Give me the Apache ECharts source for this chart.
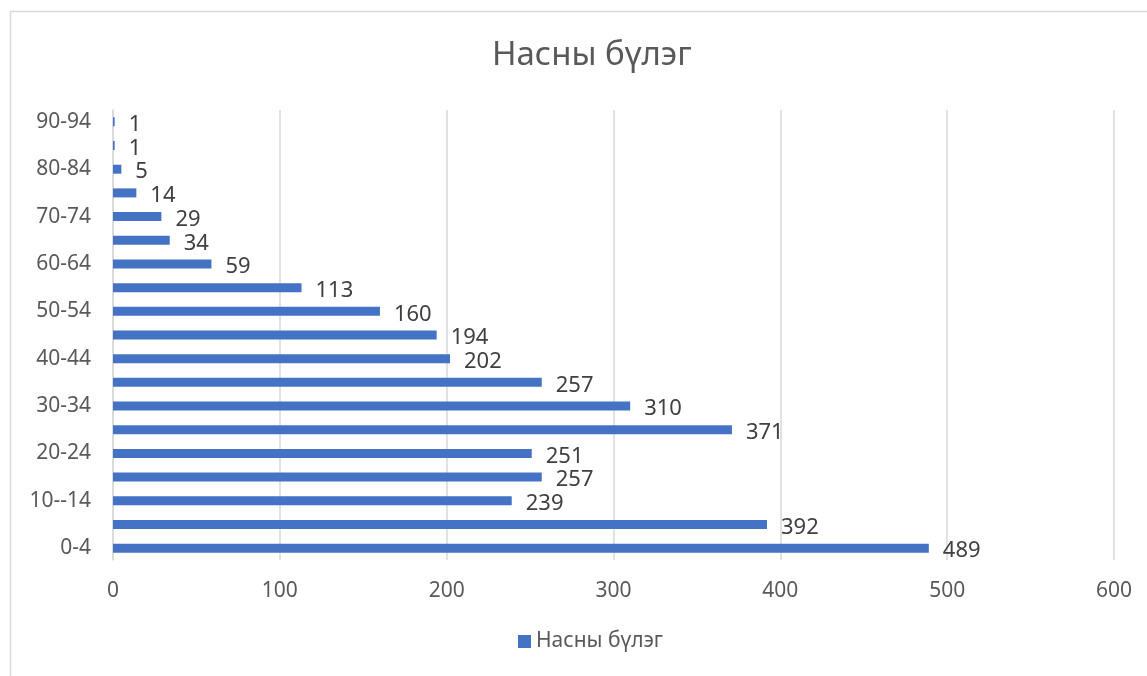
<!DOCTYPE html>
<html>
<head>
<meta charset="utf-8">
<style>
  html, body { margin: 0; padding: 0; background: #fff; }
  #chart { width: 1147px; height: 676px; }
</style>
<script src="https://cdn.jsdelivr.net/npm/echarts@6/dist/echarts.min.js"></script>
</head>
<body>
<div id="chart"></div>
<script>
var ageGroups = ['0-4', '5-9', '10--14', '15-19', '20-24', '25-29', '30-34', '35-39', '40-44', '45-49',
                 '50-54', '55-59', '60-64', '65-69', '70-74', '75-79', '80-84', '85-89', '90-94'];
var counts = [489, 392, 239, 257, 251, 371, 310, 257, 202, 194, 160, 113, 59, 34, 29, 14, 5, 1, 1];
var seriesName = 'Насны бүлэг';
var titleText = 'Насны бүлэг';

var font = '"Noto Sans", sans-serif';
var myChart = echarts.init(document.getElementById('chart'));

var option = {
  backgroundColor: '#fff',
  animation: false,
  textStyle: { fontFamily: font },
  graphic: [{
    type: 'rect',
    shape: { x: 10.5, y: 11.5, width: 1300, height: 800 },
    style: { fill: 'none', stroke: '#d9d9d9', lineWidth: 1.5 },
    silent: true
  }],
  title: {
    text: titleText,
    left: 487,
    top: 34,
    textStyle: { fontFamily: font, fontSize: 33, fontWeight: 'normal', color: '#595959' }
  },
  legend: {
    data: [seriesName],
    bottom: 19,
    left: 513,
    icon: 'rect',
    itemWidth: 13,
    itemHeight: 13,
    itemGap: 6,
    textStyle: { fontFamily: font, fontSize: 21, color: '#595959' }
  },
  grid: { left: 113, right: 33, top: 110, bottom: 116, containLabel: false },
  xAxis: {
    type: 'value',
    min: 0,
    max: 600,
    interval: 100,
    axisLine: { show: false },
    axisTick: { show: false },
    axisLabel: { fontFamily: font, fontSize: 21, color: '#595959', margin: 21 },
    splitLine: { lineStyle: { color: '#d9d9d9', width: 1.5 } }
  },
  yAxis: {
    type: 'category',
    data: ageGroups,
    axisLine: { lineStyle: { color: '#d9d9d9', width: 1.5 } },
    axisTick: { show: false },
    axisLabel: { fontFamily: font, fontSize: 21, color: '#595959', margin: 22, interval: 1 }
  },
  series: [{
    name: seriesName,
    type: 'bar',
    data: counts,
    barWidth: 9,
    itemStyle: { color: '#4472C4' },
    label: {
      show: true,
      position: 'right',
      distance: 14,
      offset: [0, 3],
      fontFamily: font,
      fontSize: 22,
      color: '#404040'
    }
  }]
};

myChart.setOption(option);
</script>
</body>
</html>
